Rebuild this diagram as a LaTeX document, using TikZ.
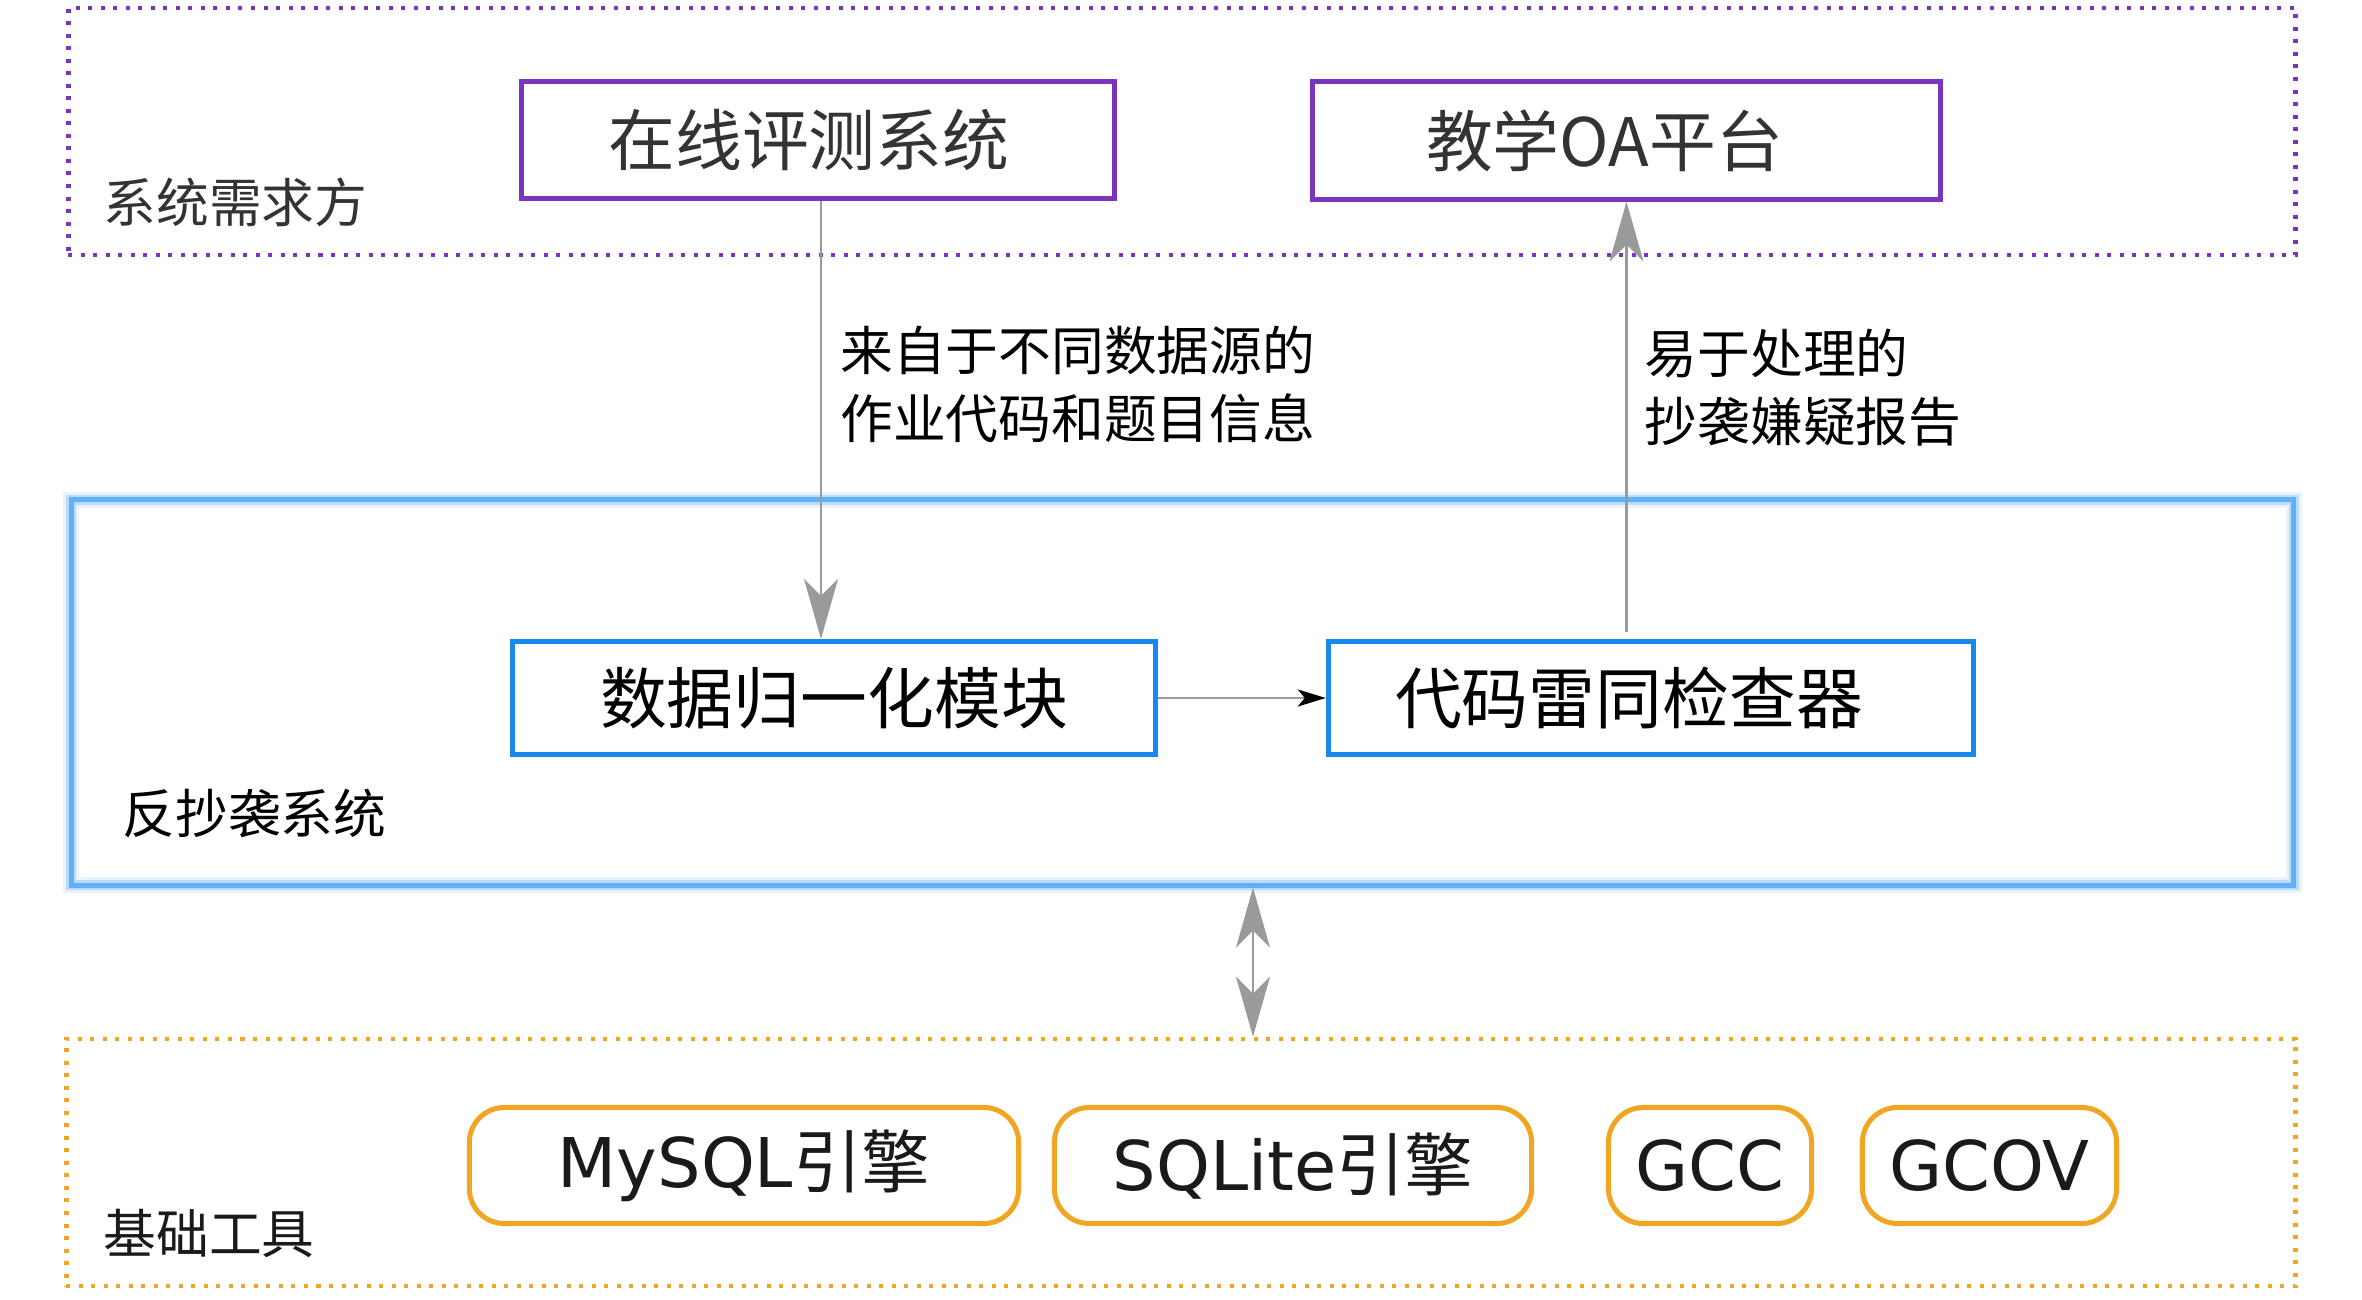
\documentclass[tikz,border=0pt]{standalone}
\usepackage{fontspec}
\setmainfont{DejaVu Sans}
\newfontfamily\cjk{Noto Sans CJK SC}
\usetikzlibrary{arrows.meta}

\definecolor{needpurple}{HTML}{7B35BD}
\definecolor{sysblue}{HTML}{1689F0}
\definecolor{sysglow}{HTML}{62B0F7}
\definecolor{toolorange}{HTML}{F0A623}
\definecolor{flowgray}{HTML}{9A9A9A}
\definecolor{textgray}{HTML}{333333}
\definecolor{textdark}{HTML}{1A1A1A}

\tikzset{
	bighead/.tip={Stealth[length=0.6cm,width=0.34cm,inset=0.17cm]},
	smallhead/.tip={Stealth[length=0.28cm,width=0.17cm,inset=0.07cm,color=black]}
}

\begin{document}
\begin{tikzpicture}[x=0.01cm,y=-0.01cm,
	needgroup/.style={draw=needpurple,line width=0.045cm,dash pattern=on 0.04cm off 0.085cm,minimum width=22.26cm,minimum height=2.47cm,inner sep=0pt},
	sysgroup/.style={draw=sysglow,line width=0.05cm,minimum width=22.21cm,minimum height=3.85cm,inner sep=0pt,
		preaction={draw=sysglow,draw opacity=0.15,line width=0.16cm},
		preaction={draw=sysglow,draw opacity=0.35,line width=0.1cm}},
	toolgroup/.style={draw=toolorange,line width=0.045cm,dash pattern=on 0.04cm off 0.085cm,minimum width=22.28cm,minimum height=2.47cm,inner sep=0pt},
	grouplabel/.style={anchor=west,inner sep=0pt,font=\cjk\fontsize{15pt}{18pt}\selectfont},
	needbox/.style={draw=needpurple,line width=0.05cm,minimum height=1.17cm,inner sep=0pt,text=textgray,font=\cjk\fontsize{19pt}{22pt}\selectfont},
	modbox/.style={draw=sysblue,line width=0.05cm,minimum height=1.13cm,inner sep=0pt,font=\cjk\fontsize{19pt}{22pt}\selectfont},
	toolbox/.style={draw=toolorange,line width=0.05cm,rounded corners=0.35cm,minimum height=1.16cm,inner sep=0pt,text=textdark,font=\fontsize{19.5pt}{22pt}\selectfont},
	leftpad/.style={execute at end node={\hspace*{#1}}},
	flowlabel/.style={inner sep=0pt,align=left,font=\cjk\fontsize{15pt}{19.3pt}\selectfont},
	bigflow/.style={draw=flowgray,line width=0.025cm,-bighead},
	smallflow/.style={draw=flowgray,line width=0.028cm,-smallhead},
	linkflow/.style={draw=flowgray,line width=0.025cm,bighead-bighead}
]
	\useasboundingbox (0,0) rectangle (2362,1299);
	
	\node[needgroup] (need) at (1182,131.5) {};
	\node[sysgroup] (sys) at (1182.5,692.5) {};
	\node[toolgroup] (tools) at (1181,1162.5) {};
	
	\node[grouplabel,text=textgray] (needname) at (103,202) {系统需求方};
	\node[grouplabel,text=black] (sysname) at (122,813) {反抄袭系统};
	\node[grouplabel,text=textdark] (toolname) at (103,1233) {基础工具};
	
	\node[needbox,minimum width=5.93cm,leftpad=0.18cm] (online) at (818,140) {在线评测系统};
	\node[needbox,minimum width=6.28cm,leftpad=0.44cm] (oa) at (1626.5,140.5) {教学OA平台};
	
	\node[modbox,minimum width=6.43cm] (norm) at (834,698) {数据归一化模块};
	\node[modbox,minimum width=6.45cm,leftpad=0.44cm] (checker) at (1651,698) {代码雷同检查器};
	
	\node[toolbox,minimum width=5.49cm] (mysql) at (744,1165.5) {MySQL{\cjk 引擎}};
	\node[toolbox,minimum width=4.77cm] (sqlite) at (1293,1165.5) {SQLite{\cjk 引擎}};
	\node[toolbox,minimum width=2.03cm] (gcc) at (1710,1165.5) {GCC};
	\node[toolbox,minimum width=2.54cm] (gcov) at (1989.5,1165.5) {GCOV};
	
	\coordinate (link) at (1253,0);
	
	\draw[bigflow] (online.south -| 821,0) -- node[flowlabel,pos=0.418,anchor=west,xshift=0.18cm] {来自于不同数据源的\\作业代码和题目信息} (norm.north -| 821,0);
	\draw[bigflow,shorten <=0.07cm] (oa |- checker.north) -- node[flowlabel,pos=0.575,anchor=west,xshift=0.17cm] {易于处理的\\抄袭嫌疑报告} (oa);
	\draw[smallflow] (norm) -- (checker);
	\draw[linkflow] (sys.south -| link) -- (tools.north -| link);
\end{tikzpicture}
\end{document}
